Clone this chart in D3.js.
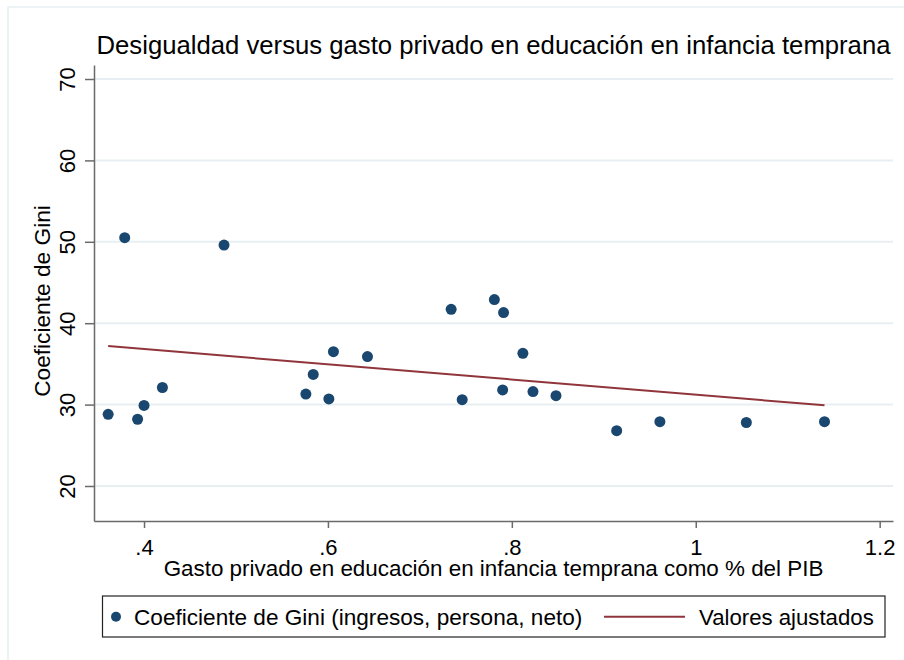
<!DOCTYPE html>
<html>
<head>
<meta charset="utf-8">
<script src="https://cdn.jsdelivr.net/npm/d3@7"></script>
<style>
  body { margin: 0; background: #fff; }
  svg { display: block; font-family: "Liberation Sans", Arial, sans-serif; }
</style>
</head>
<body>
<svg width="904" height="660"></svg>
<script>
// data
const gasto = [0.361, 0.379, 0.393, 0.400, 0.420, 0.487, 0.576, 0.584, 0.601, 0.606,
  0.643, 0.734, 0.746, 0.781, 0.791, 0.790, 0.812, 0.823, 0.848, 0.914,
  0.961, 1.055, 1.140];
const gini = [28.8, 50.5, 28.2, 29.9, 32.1, 49.6, 31.3, 33.7, 30.7, 36.5,
  35.9, 41.7, 30.6, 42.9, 41.3, 31.8, 36.3, 31.6, 31.1, 26.8,
  27.9, 27.8, 27.9];
const xTicks = [0.4, 0.6, 0.8, 1.0, 1.2];
const yTicks = [20, 30, 40, 50, 60, 70];

const svg = d3.select("svg"),
    width = +svg.attr("width"),
    height = +svg.attr("height");

const navy = "#1a476f", maroon = "#90353b", grid = "#e8eff2", axisCol = "#6a6a6a";

// plot area
const pL = 94, pR = 893, pT = 65, pB = 521;

const x = d3.scaleLinear().domain([0.3456, 1.2145]).range([pL, pR]);
const y = d3.scaleLinear().domain([15.7, 71.72]).range([pB, pT]);

// outer frame (light)
svg.append("rect")
    .attr("x", 8).attr("y", 7)
    .attr("width", width).attr("height", height)
    .attr("fill", "none").attr("stroke", grid).attr("stroke-width", 1.5);

// gridlines
svg.append("g")
  .selectAll("line")
  .data(yTicks)
  .join("line")
    .attr("x1", pL).attr("x2", pR)
    .attr("y1", d => y(d)).attr("y2", d => y(d))
    .attr("stroke", grid).attr("stroke-width", 2);

// y axis
const yAxis = svg.append("g")
    .attr("transform", `translate(${pL},0)`)
    .call(d3.axisLeft(y).tickValues(yTicks).tickSize(9).tickSizeOuter(0).tickFormat(d3.format("d")));
yAxis.select(".domain").attr("stroke", axisCol).attr("stroke-width", 1.5);
yAxis.selectAll(".tick line").attr("stroke", axisCol).attr("stroke-width", 1.5);
yAxis.selectAll(".tick text")
    .attr("x", 0).attr("y", 0).attr("dy", null)
    .attr("transform", "translate(-19,0) rotate(-90)")
    .attr("text-anchor", "middle")
    .attr("fill", "#000")
    .style("font-size", "22px");

// x axis, stata style labels (.4, .6 ...)
const xAxis = svg.append("g")
    .attr("transform", `translate(0,${pB})`)
    .call(d3.axisBottom(x).tickValues(xTicks).tickSize(7).tickSizeOuter(0)
        .tickFormat(d => String(d).replace(/^0\./, ".")));
xAxis.select(".domain").attr("stroke", axisCol).attr("stroke-width", 1.5);
xAxis.selectAll(".tick line").attr("stroke", axisCol).attr("stroke-width", 1.5);
xAxis.selectAll(".tick text")
    .attr("y", 34).attr("dy", null)
    .attr("fill", "#000")
    .style("font-size", "22px");

// titles
svg.append("text")
    .attr("x", (pL + pR) / 2).attr("y", 54)
    .attr("text-anchor", "middle")
    .style("font-size", "25.7px")
    .text("Desigualdad versus gasto privado en educación en infancia temprana");

svg.append("text")
    .attr("x", (pL + pR) / 2).attr("y", 576)
    .attr("text-anchor", "middle")
    .style("font-size", "22.4px")
    .text("Gasto privado en educación en infancia temprana como % del PIB");

svg.append("text")
    .attr("transform", "translate(50,301) rotate(-90)")
    .attr("text-anchor", "middle")
    .style("font-size", "22.7px")
    .text("Coeficiente de Gini");

// fitted values (OLS of gini on gasto)
const mx = d3.mean(gasto), my = d3.mean(gini);
const sxy = d3.sum(gasto, (g, i) => (g - mx) * (gini[i] - my));
const sxx = d3.sum(gasto, g => (g - mx) * (g - mx));
const slope = sxy / sxx, icpt = my - slope * mx;
const xr = d3.extent(gasto);

svg.append("path")
    .datum(xr)
    .attr("d", d3.line().x(d => x(d)).y(d => y(icpt + slope * d)))
    .attr("stroke", maroon).attr("stroke-width", 2).attr("fill", "none");

// points
svg.append("g")
  .selectAll("circle")
  .data(gasto)
  .join("circle")
    .attr("cx", d => x(d))
    .attr("cy", (d, i) => y(gini[i]))
    .attr("r", 5.5)
    .attr("fill", navy);

// legend
const lg = svg.append("g");
lg.append("rect")
    .attr("x", 102.5).attr("y", 596)
    .attr("width", 782.5).attr("height", 41)
    .attr("fill", "#fff").attr("stroke", "#222").attr("stroke-width", 1.2);
lg.append("circle").attr("cx", 116).attr("cy", 616.7).attr("r", 5).attr("fill", navy);
lg.append("text").attr("x", 134).attr("y", 624.5).style("font-size", "22.6px")
    .text("Coeficiente de Gini (ingresos, persona, neto)");
lg.append("line").attr("x1", 604).attr("x2", 685).attr("y1", 616.7).attr("y2", 616.7)
    .attr("stroke", maroon).attr("stroke-width", 2);
lg.append("text").attr("x", 699).attr("y", 624.5).style("font-size", "22.2px")
    .text("Valores ajustados");
</script>
</body>
</html>
